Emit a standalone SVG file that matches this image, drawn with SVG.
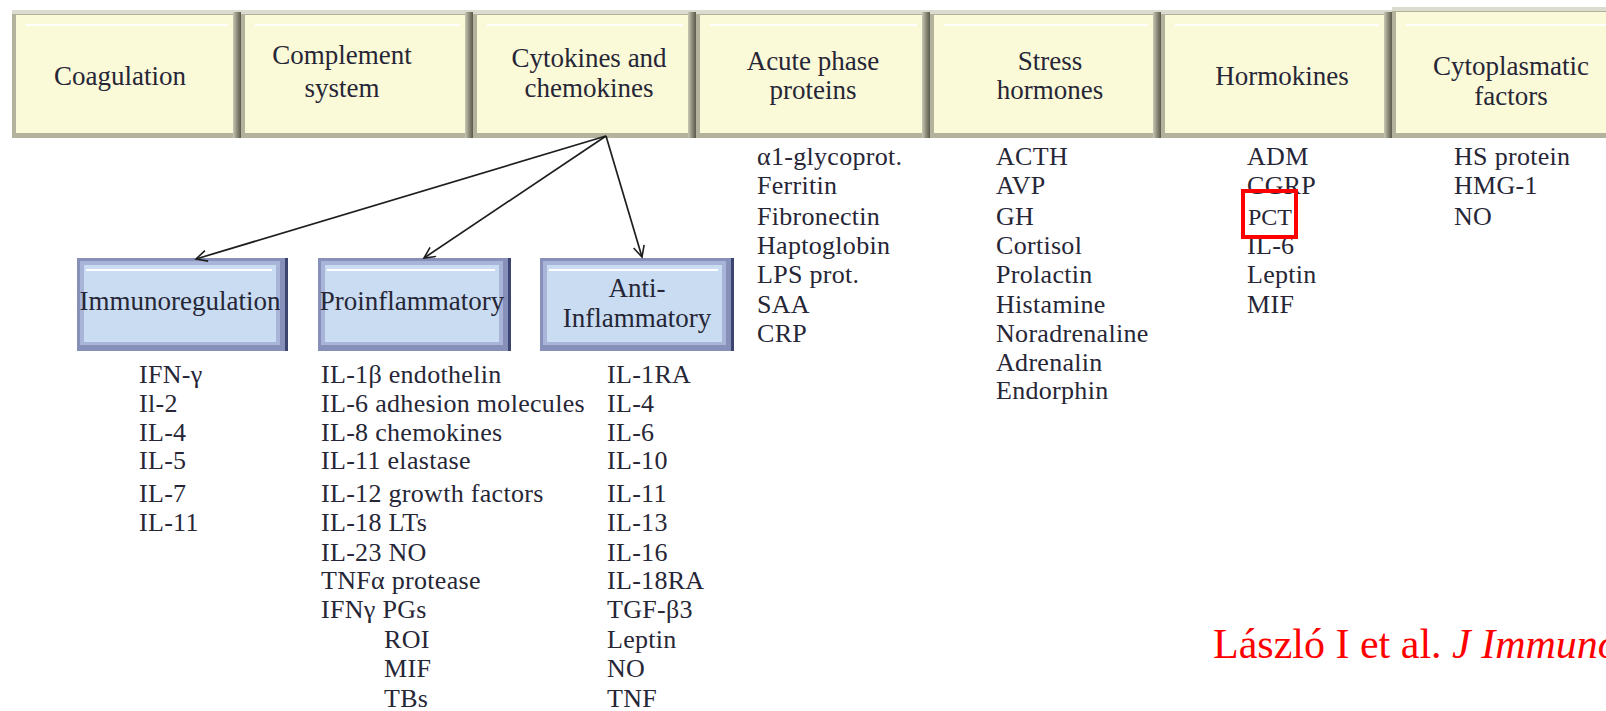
<svg xmlns="http://www.w3.org/2000/svg" width="1606" height="711" viewBox="0 0 1606 711">
<style>
.bo{fill:#B3B29C}
.bt{fill:#DCDBCF}
.bi{fill:#FAF9D8}
.br{fill:url(#gr)}
.hl{fill:#FFFFFF}
.uo{fill:#8690B8}
.ui{fill:#C9DCF1}
.ul{fill:#A9B5D8}
.ur{fill:#3C4470}
.h{font-family:"Liberation Serif",serif;font-size:27px;fill:#262636;text-anchor:middle}
.s{font-family:"Liberation Serif",serif;font-size:27px;fill:#262636;text-anchor:middle}
.l{font-family:"Liberation Serif",serif;font-size:26px;letter-spacing:0.3px;fill:#262636}
.cite{font-family:"Liberation Serif",serif;font-size:42px;fill:#FF0000}
.con{stroke:#1E1E1E;stroke-width:1.7;fill:none}
</style>
<defs>
<linearGradient id="gr" x1="0" y1="0" x2="1" y2="0">
<stop offset="0" stop-color="#C9C8B3"/>
<stop offset="0.5" stop-color="#8E8D7B"/>
<stop offset="1" stop-color="#5A5A4C"/>
</linearGradient>
<marker id="ah" markerUnits="userSpaceOnUse" markerWidth="16" markerHeight="16" refX="12" refY="6" orient="auto">
<path d="M1,0.5 L12,6 L1,11.5" fill="none" stroke="#1E1E1E" stroke-width="1.6"/>
</marker>
</defs>
<rect x="0" y="0" width="1606" height="711" fill="#FFFFFF"/>

<g id="coagulation">
<rect class="bo" x="12" y="10" width="229" height="128"/>
<rect class="bt" x="12" y="10" width="229" height="4"/>
<rect class="bi" x="16" y="15" width="217" height="118"/>
<rect class="br" x="233" y="12" width="8" height="126"/>
<rect class="hl" x="26" y="24" width="202" height="2"/>
<text class="h" x="120" y="85">Coagulation</text>
</g>
<g id="complement">
<rect class="bo" x="241" y="10" width="232" height="128"/>
<rect class="bt" x="241" y="10" width="232" height="4"/>
<rect class="bi" x="245" y="15" width="220" height="118"/>
<rect class="br" x="465" y="12" width="8" height="126"/>
<rect class="hl" x="255" y="24" width="205" height="2"/>
<text class="h" x="342" y="64">Complement</text>
<text class="h" x="342" y="97">system</text>
</g>
<g id="cytokines">
<rect class="bo" x="473" y="10" width="223" height="128"/>
<rect class="bt" x="473" y="10" width="223" height="4"/>
<rect class="bi" x="477" y="15" width="211" height="118"/>
<rect class="br" x="688" y="12" width="8" height="126"/>
<rect class="hl" x="487" y="24" width="196" height="2"/>
<text class="h" x="589" y="67">Cytokines and</text>
<text class="h" x="589" y="97">chemokines</text>
</g>
<g id="acute">
<rect class="bo" x="696" y="10" width="234" height="128"/>
<rect class="bt" x="696" y="10" width="234" height="4"/>
<rect class="bi" x="700" y="15" width="222" height="118"/>
<rect class="br" x="922" y="12" width="8" height="126"/>
<rect class="hl" x="710" y="24" width="207" height="2"/>
<text class="h" x="813" y="70">Acute phase</text>
<text class="h" x="813" y="99">proteins</text>
</g>
<g id="stress">
<rect class="bo" x="930" y="10" width="231" height="128"/>
<rect class="bt" x="930" y="10" width="231" height="4"/>
<rect class="bi" x="934" y="15" width="219" height="118"/>
<rect class="br" x="1153" y="12" width="8" height="126"/>
<rect class="hl" x="944" y="24" width="204" height="2"/>
<text class="h" x="1050" y="70">Stress</text>
<text class="h" x="1050" y="99">hormones</text>
</g>
<g id="hormokines">
<rect class="bo" x="1161" y="10" width="231" height="128"/>
<rect class="bt" x="1161" y="10" width="231" height="4"/>
<rect class="bi" x="1165" y="15" width="219" height="118"/>
<rect class="br" x="1384" y="12" width="8" height="126"/>
<rect class="hl" x="1175" y="24" width="204" height="2"/>
<text class="h" x="1282" y="85">Hormokines</text>
</g>
<g id="cytoplasmatic">
<rect class="bo" x="1392" y="7" width="224" height="131"/>
<rect class="bt" x="1392" y="7" width="224" height="4"/>
<rect class="bi" x="1396" y="12" width="215" height="121"/>
<rect class="hl" x="1406" y="24" width="200" height="2"/>
<text class="h" x="1511" y="75">Cytoplasmatic</text>
<text class="h" x="1511" y="105">factors</text>
</g>

<g id="immunoregulation">
<rect class="uo" x="77" y="258" width="211" height="93"/>
<rect class="ul" x="80" y="261" width="200" height="84"/>
<rect class="ui" x="84" y="265" width="192" height="77"/>
<rect class="ur" x="285" y="258" width="3" height="93"/>
<rect class="hl" x="86" y="269" width="186" height="2"/>
<text class="s" x="180" y="310">Immunoregulation</text>
</g>
<g id="proinflammatory">
<rect class="uo" x="318" y="258" width="193" height="93"/>
<rect class="ul" x="321" y="261" width="182" height="84"/>
<rect class="ui" x="325" y="265" width="174" height="77"/>
<rect class="ur" x="508" y="258" width="3" height="93"/>
<rect class="hl" x="327" y="269" width="168" height="2"/>
<text class="s" x="412" y="310">Proinflammatory</text>
</g>
<g id="antiinflammatory">
<rect class="uo" x="540" y="258" width="194" height="93"/>
<rect class="ul" x="543" y="261" width="183" height="84"/>
<rect class="ui" x="547" y="265" width="175" height="77"/>
<rect class="ur" x="731" y="258" width="3" height="93"/>
<rect class="hl" x="549" y="269" width="169" height="2"/>
<text class="s" x="637" y="297">Anti-</text>
<text class="s" x="637" y="327">Inflammatory</text>
</g>

<g id="connectors">
<line class="con" x1="606" y1="136" x2="196" y2="259" marker-end="url(#ah)"/>
<line class="con" x1="606" y1="136" x2="424" y2="258" marker-end="url(#ah)"/>
<line class="con" x1="606" y1="136" x2="642" y2="257" marker-end="url(#ah)"/>
</g>

<g id="list-immunoregulation" class="l">
<text x="139" y="383">IFN-γ</text>
<text x="139" y="412">Il-2</text>
<text x="139" y="441">IL-4</text>
<text x="139" y="469">IL-5</text>
<text x="139" y="502">IL-7</text>
<text x="139" y="531">IL-11</text>
</g>
<g id="list-proinflammatory" class="l">
<text x="321" y="383">IL-1β endothelin</text>
<text x="321" y="412">IL-6 adhesion molecules</text>
<text x="321" y="441">IL-8 chemokines</text>
<text x="321" y="469">IL-11 elastase</text>
<text x="321" y="502">IL-12 growth factors</text>
<text x="321" y="531">IL-18 LTs</text>
<text x="321" y="561">IL-23 NO</text>
<text x="321" y="589">TNFα protease</text>
<text x="321" y="618">IFNγ PGs</text>
<text x="384" y="648">ROI</text>
<text x="384" y="677">MIF</text>
<text x="384" y="707">TBs</text>
</g>
<g id="list-antiinflammatory" class="l">
<text x="607" y="383">IL-1RA</text>
<text x="607" y="412">IL-4</text>
<text x="607" y="441">IL-6</text>
<text x="607" y="469">IL-10</text>
<text x="607" y="502">IL-11</text>
<text x="607" y="531">IL-13</text>
<text x="607" y="561">IL-16</text>
<text x="607" y="589">IL-18RA</text>
<text x="607" y="618">TGF-β3</text>
<text x="607" y="648">Leptin</text>
<text x="607" y="677">NO</text>
<text x="607" y="707">TNF</text>
</g>
<g id="list-acute" class="l">
<text x="757" y="165">α1-glycoprot.</text>
<text x="757" y="194">Ferritin</text>
<text x="757" y="225">Fibronectin</text>
<text x="757" y="254">Haptoglobin</text>
<text x="757" y="283">LPS prot.</text>
<text x="757" y="313">SAA</text>
<text x="757" y="342">CRP</text>
</g>
<g id="list-stress" class="l">
<text x="996" y="165">ACTH</text>
<text x="996" y="194">AVP</text>
<text x="996" y="225">GH</text>
<text x="996" y="254">Cortisol</text>
<text x="996" y="283">Prolactin</text>
<text x="996" y="313">Histamine</text>
<text x="996" y="342">Noradrenaline</text>
<text x="996" y="371">Adrenalin</text>
<text x="996" y="399">Endorphin</text>
</g>
<g id="list-hormokines" class="l">
<text x="1247" y="165">ADM</text>
<text x="1247" y="194">CGRP</text>
<text x="1248" y="225" font-size="24" letter-spacing="0">PCT</text>
<text x="1247" y="254">IL-6</text>
<text x="1247" y="283">Leptin</text>
<text x="1247" y="313">MIF</text>
</g>
<g id="list-cytoplasmatic" class="l">
<text x="1454" y="165">HS protein</text>
<text x="1454" y="194">HMG-1</text>
<text x="1454" y="225">NO</text>
</g>
<rect id="pct-highlight" x="1243" y="191" width="53" height="46" fill="none" stroke="#FF0000" stroke-width="4"/>
<text id="citation" class="cite" x="1213" y="658">László I et al. <tspan font-style="italic">J Immunol</tspan></text>
</svg>
